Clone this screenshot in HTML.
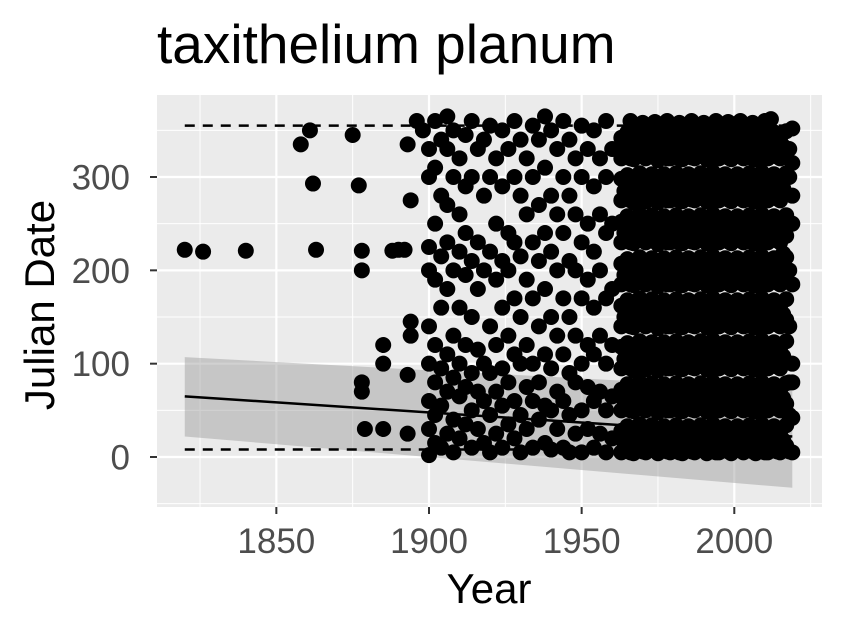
<!DOCTYPE html>
<html><head><meta charset="utf-8"><style>
body{margin:0;background:#fff;}
svg{display:block;font-family:"Liberation Sans",Arial,sans-serif;}
</style></head><body>
<svg id="chart" width="844" height="636">
<text x="157" y="63" font-size="55" fill="#000">taxithelium planum</text>
<rect x="157" y="95" width="665" height="412" fill="#ebebeb"/>
<defs><clipPath id="clip"><rect x="157" y="95" width="665" height="412"/></clipPath></defs>
<g id="grid"></g>
<g id="ribbon" clip-path="url(#clip)"></g>
<g id="pts" clip-path="url(#clip)"></g>
<g id="lines" clip-path="url(#clip)"></g>
<g id="axes"></g>
<text x="489" y="603" font-size="42" text-anchor="middle" fill="#000">Year</text>
<text transform="translate(54,305) rotate(-90)" font-size="42" text-anchor="middle" fill="#000">Julian Date</text>
</svg>
<script>
const xTicks=[1850,1900,1950,2000];
const xMinor=[1825,1875,1925,1975,2025];
const yTicks=[0,100,200,300];
const yMinor=[-50,50,150,250,350];
const fitYears=[1820,2019];
const fitValues=[65,22];
const ribbonUpper=[107,72];
const ribbonLower=[22,-33];
const quantYears=[1820,2019];
const upperQuant=[355,355];
const lowerQuant=[8,8];
const early=[[1820,222],[1826,220],[1840,221],[1858,335],[1861,350],[1862,293],[1863,222],[1875,345],[1877,291],[1878,200],[1878,221],[1878,70],[1878,80],[1879,30],[1885,30],[1885,120],[1885,100],[1888,221],[1890,222],[1892,222],[1893,25],[1893,88],[1893,335],[1894,275],[1894,145],[1894,130],[1896,360],[1898,350]];
const rows=[
[1900,[2,30,60,100,140,200,225,300,330]],[1902,[15,45,80,120,190,250,310,360]],[1904,[10,55,95,160,215,280,340]],[1906,[25,70,110,180,230,270,330,365]],
[1908,[5,40,85,130,200,300,350]],[1910,[20,65,100,160,220,260,320]],[1912,[35,75,120,195,240,290,345]],[1914,[10,50,90,150,210,300,360]],
[1916,[30,70,115,180,230,330]],[1918,[15,60,100,200,280,340]],[1920,[5,45,90,140,220,300,355]],[1922,[25,70,120,190,250,320]],
[1924,[10,55,95,160,210,290,350]],[1926,[35,80,130,200,240,330]],[1928,[20,60,110,170,230,300,360]],[1930,[5,45,100,150,215,280,340]],
[1932,[30,75,120,190,260,320]],[1934,[10,60,100,170,230,300,355]],[1936,[40,80,140,210,270,340]],[1938,[15,55,110,180,240,310,365]],
[1940,[8,50,95,150,220,280,350]],[1942,[30,70,130,200,260,330]],[1944,[10,60,110,170,240,300,360]],[1946,[5,45,90,150,210,280,340]],
[1948,[25,80,130,200,260,320]],[1950,[5,50,100,170,230,300,355]],[1952,[30,75,120,190,250,330]],[1954,[10,60,110,160,220,290,350]],
[1956,[25,70,130,200,260,320]],[1958,[5,50,100,170,240,300,360]],[1960,[20,65,120,180,250,330]],
[1963,[5,28,50,72,95,118,140,162,185,207,230,252,275,298,320,342]],[1964,[15,60,105,150,195,240,285,330]],
[1965,[10,33,55,78,100,122,145,168,190,212,235,258,280,302,325,348]],[1966,[5,50,95,140,185,230,275,320,360]],
[1967,[4,26,49,71,93,116,139,161,184,206,229,251,273,296,319,341]],[1968,[18,63,108,153,198,243,288,333]],
[1969,[12,35,57,80,102,124,147,170,192,214,237,260,282,304,327,350]],[1970,[6,52,97,142,187,232,277,322,358]],
[1971,[5,27,50,72,94,117,140,162,185,207,230,252,274,297,320,342]],[1972,[16,61,106,151,196,241,286,331]],
[1973,[11,34,56,79,101,123,146,169,191,213,236,259,281,303,326,349]],[1974,[7,51,96,141,186,231,276,321,359]],
[1975,[4,26,48,71,93,116,138,161,183,206,228,251,273,296,318,341]],[1976,[17,62,107,152,197,242,287,332]],
[1977,[10,33,55,78,100,123,145,168,190,213,235,258,280,303,325,348]],[1978,[6,50,95,140,185,230,275,320,360]],
[1979,[5,28,50,72,95,117,140,162,185,207,230,252,275,297,320,342]],[1980,[15,60,105,150,195,240,285,330]],
[1981,[12,34,57,79,102,124,147,169,192,214,237,259,282,304,327,349]],[1982,[5,50,95,140,185,230,275,320,358]],
[1983,[4,27,49,72,94,117,139,162,184,207,229,252,274,297,319,342]],[1984,[18,63,108,153,198,243,288,333]],
[1985,[11,33,56,78,101,123,146,168,191,213,236,258,281,303,326,348]],[1986,[6,51,96,141,186,231,276,321,360]],
[1987,[5,27,50,72,95,117,140,162,185,207,230,252,275,297,320,342]],[1988,[16,61,106,151,196,241,286,331]],
[1989,[10,34,56,79,101,124,146,169,191,214,236,259,281,304,326,349]],[1990,[7,52,97,142,187,232,277,322,358]],
[1991,[4,26,49,71,94,116,139,161,184,206,229,251,274,296,319,341]],[1992,[17,62,107,152,197,242,287,332]],
[1993,[12,35,57,80,102,125,147,170,192,215,237,260,282,305,327,350]],[1994,[5,50,95,140,185,230,275,320,360]],
[1995,[5,28,50,73,95,118,140,163,185,208,230,253,275,298,320,343]],[1996,[15,60,105,150,195,240,285,330]],
[1997,[11,33,56,78,101,123,146,168,191,213,236,258,281,303,326,348]],[1998,[6,51,96,141,186,231,276,321,359]],
[1999,[4,27,49,72,94,117,139,162,184,207,229,252,274,297,319,342]],[2000,[18,63,108,153,198,243,288,333]],
[2001,[10,33,55,78,100,123,145,168,190,213,235,258,280,303,325,348]],[2002,[7,52,97,142,187,232,277,322,360]],
[2003,[5,27,50,72,95,117,140,162,185,207,230,252,275,297,320,342]],[2004,[16,61,106,151,196,241,286,331]],
[2005,[12,34,57,79,102,124,147,169,192,214,237,259,282,304,327,349]],[2006,[6,50,95,140,185,230,275,320,358]],
[2007,[4,26,49,71,94,116,139,161,184,206,229,251,274,296,319,341]],[2008,[17,62,107,152,197,242,287,332]],
[2009,[11,35,57,80,102,125,147,170,192,215,237,260,282,305,327,350]],[2010,[5,51,96,141,186,231,276,321,360]],
[2011,[5,28,50,73,95,118,140,163,185,208,230,253,275,298,320,343]],[2012,[15,60,105,150,195,240,285,330,362]],
[2013,[10,33,56,78,101,123,146,168,191,213,236,258,281,303,326,348]],[2014,[6,52,97,142,187,232,277,322]],
[2015,[5,27,50,72,95,117,140,162,185,207,230,252,275,297,320,342]],[2016,[18,63,108,153,198,218,243,288,333]],
[2017,[12,34,57,79,102,124,147,169,192,214,237,259,282,304,327,349]],[2018,[6,45,80,140,200,250,300,330]],
[2019,[5,42,80,100,185,250,280,315,352]]
];
const X=y=>429+(y-1900)*3.053;
const Y=d=>457-d*0.9333;
const NS="http://www.w3.org/2000/svg";
function mk(t,a,p){const e=document.createElementNS(NS,t);for(const k in a)e.setAttribute(k,a[k]);p.appendChild(e);return e;}
const grid=document.getElementById('grid'),axes=document.getElementById('axes');
xMinor.forEach(v=>{const l=mk('line',{x1:X(v),x2:X(v),y1:95,y2:507,stroke:'#fff','stroke-width':1},grid);

});
yMinor.forEach(v=>{const l=mk('line',{x1:157,x2:822,y1:Y(v),y2:Y(v),stroke:'#fff','stroke-width':1},grid);

});
xTicks.forEach(v=>{const l=mk('line',{x1:X(v),x2:X(v),y1:95,y2:507,stroke:'#fff','stroke-width':2.2},grid);


const t=mk('line',{x1:X(v),x2:X(v),y1:507,y2:514,stroke:'#333','stroke-width':2},axes);


const tx=mk('text',{x:X(v),y:553,'font-size':35,fill:'#4d4d4d','text-anchor':'middle'},axes);tx.textContent=v;

});
yTicks.forEach(v=>{const l=mk('line',{x1:157,x2:822,y1:Y(v),y2:Y(v),stroke:'#fff','stroke-width':2.2},grid);


const t=mk('line',{x1:150,x2:157,y1:Y(v),y2:Y(v),stroke:'#333','stroke-width':2},axes);


const tx=mk('text',{x:130,y:Y(v)+12.5,'font-size':35,fill:'#4d4d4d','text-anchor':'end'},axes);tx.textContent=v;

});
const rib=mk('polygon',{points:`${X(fitYears[0])},${Y(ribbonUpper[0])} ${X(fitYears[1])},${Y(ribbonUpper[1])} ${X(fitYears[1])},${Y(ribbonLower[1])} ${X(fitYears[0])},${Y(ribbonLower[0])}`,fill:'#999','fill-opacity':0.45},document.getElementById('ribbon'));


const pts=document.getElementById('pts');
function dot(yr,d){const c=mk('circle',{cx:X(yr),cy:Y(d),r:8,fill:'#000'},pts);

}
early.forEach(p=>dot(p[0],p[1]));
rows.forEach(r=>r[1].forEach(d=>dot(r[0],d)));
const lines=document.getElementById('lines');
const fl=mk('line',{x1:X(fitYears[0]),y1:Y(fitValues[0]),x2:X(fitYears[1]),y2:Y(fitValues[1]),stroke:'#000','stroke-width':2.5},lines);


const uq=mk('line',{x1:X(quantYears[0]),y1:Y(upperQuant[0]),x2:X(quantYears[1]),y2:Y(upperQuant[1]),stroke:'#000','stroke-width':2.5,'stroke-dasharray':'10,8'},lines);


const lq=mk('line',{x1:X(quantYears[0]),y1:Y(lowerQuant[0]),x2:X(quantYears[1]),y2:Y(lowerQuant[1]),stroke:'#000','stroke-width':2.5,'stroke-dasharray':'10,8'},lines);


</script>
</body></html>
